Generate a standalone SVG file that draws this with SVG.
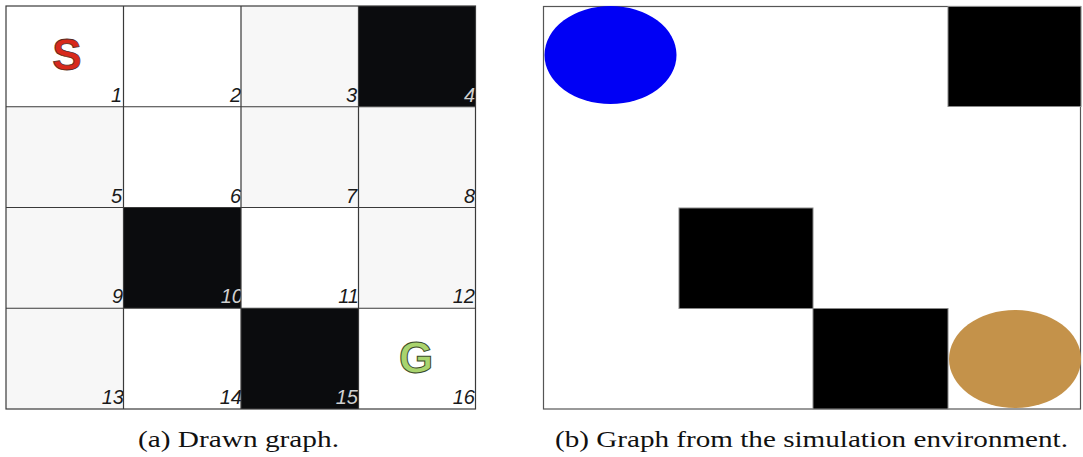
<svg xmlns="http://www.w3.org/2000/svg" width="1083" height="457" viewBox="0 0 1083 457">
<style>
.w{fill:#ffffff}
.g{fill:#f7f7f7}
.k{fill:#0b0c0e}
.gl{stroke:#3a3a3a;stroke-width:1.2;fill:none}
.n{font-family:"Liberation Sans",Arial,sans-serif;font-style:italic;font-size:20px;text-anchor:end;fill:#1a1a1a}
.nk{fill:#d0d0d0}
.cap{font-family:"Liberation Serif","Times New Roman",serif;font-size:23px;fill:#111;text-anchor:middle}
.ob{fill:#000;stroke:#888;stroke-width:1}
</style>
<rect width="1083" height="457" fill="#ffffff"/>
<g id="drawn-graph">
<g id="cell1"><rect class="w" x="6" y="6" width="117.5" height="100.75"/><text class="n" x="122" y="102">1</text></g>
<g id="cell2"><rect class="w" x="123.5" y="6" width="117.5" height="100.75"/><text class="n" x="241" y="102">2</text></g>
<g id="cell3"><rect class="g" x="241" y="6" width="117.5" height="100.75"/><text class="n" x="357" y="102">3</text></g>
<g id="cell4"><rect class="k" x="358.5" y="6" width="117.5" height="100.75"/><text class="n nk" x="475" y="102">4</text></g>
<g id="cell5"><rect class="g" x="6" y="106.75" width="117.5" height="100.75"/><text class="n" x="122" y="203">5</text></g>
<g id="cell6"><rect class="w" x="123.5" y="106.75" width="117.5" height="100.75"/><text class="n" x="241" y="203">6</text></g>
<g id="cell7"><rect class="g" x="241" y="106.75" width="117.5" height="100.75"/><text class="n" x="357" y="203">7</text></g>
<g id="cell8"><rect class="g" x="358.5" y="106.75" width="117.5" height="100.75"/><text class="n" x="475" y="203">8</text></g>
<g id="cell9"><rect class="g" x="6" y="207.5" width="117.5" height="100.75"/><text class="n" x="123" y="303">9</text></g>
<g id="cell10"><rect class="k" x="123.5" y="207.5" width="117.5" height="100.75"/><text class="n nk" x="243" y="303">10</text></g>
<g id="cell11"><rect class="w" x="241" y="207.5" width="117.5" height="100.75"/><text class="n" x="359" y="303">11</text></g>
<g id="cell12"><rect class="g" x="358.5" y="207.5" width="117.5" height="100.75"/><text class="n" x="475" y="303">12</text></g>
<g id="cell13"><rect class="g" x="6" y="308.25" width="117.5" height="100.75"/><text class="n" x="124" y="404">13</text></g>
<g id="cell14"><rect class="w" x="123.5" y="308.25" width="117.5" height="100.75"/><text class="n" x="242" y="404">14</text></g>
<g id="cell15"><rect class="k" x="241" y="308.25" width="117.5" height="100.75"/><text class="n nk" x="358" y="404">15</text></g>
<g id="cell16"><rect class="w" x="358.5" y="308.25" width="117.5" height="100.75"/><text class="n" x="475" y="404">16</text></g>
<g id="grid-lines">
<rect class="gl" x="6" y="6" width="469.5" height="403"/>
<path class="gl" d="M123.5 6V409M241 6V409M358.5 6V409M6 106.75H475.5M6 207.5H475.5M6 308.25H475.5"/>
</g>
<g id="start"><text x="67" y="70" font-family="Liberation Sans,Arial,sans-serif" font-weight="bold" font-size="44" fill="#d8291c" stroke="#5a2a20" stroke-width="0.8" text-anchor="middle">S</text></g>
<g id="goal"><text x="416" y="373" font-family="Liberation Sans,Arial,sans-serif" font-weight="bold" font-size="44" fill="#a9d46e" stroke="#3a4a2a" stroke-width="1" text-anchor="middle">G</text></g>
</g>
<g id="simulation-graph">
<rect x="543.5" y="6.5" width="537" height="402.5" fill="#fff" stroke="#555" stroke-width="1.2"/>
<g id="obstacle1"><rect class="ob" x="948" y="6.5" width="133" height="100"/></g>
<g id="obstacle2"><rect class="ob" x="679" y="208" width="134" height="100.5"/></g>
<g id="obstacle3"><rect class="ob" x="813" y="308.5" width="135" height="100.5"/></g>
<g id="agent"><ellipse cx="610.5" cy="55" rx="66" ry="49" fill="#0000f5"/></g>
<g id="target"><ellipse cx="1015" cy="359" rx="66" ry="49" fill="#c4924a"/></g>
</g>
<g id="connectors"></g>
<text class="cap" x="238.5" y="447" textLength="201" lengthAdjust="spacingAndGlyphs">(a) Drawn graph.</text>
<text class="cap" x="811.5" y="447" textLength="513" lengthAdjust="spacingAndGlyphs">(b) Graph from the simulation environment.</text>
</svg>
